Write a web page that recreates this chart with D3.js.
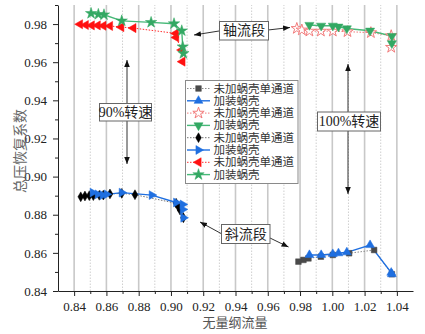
<!DOCTYPE html>
<html>
<head>
<meta charset="utf-8">
<script src="https://cdn.jsdelivr.net/npm/d3@7"></script>
<style>
  body { margin: 0; background: #fff; }
  text { font-family: "Times New Roman", "Liberation Serif", "DejaVu Serif", "Noto Sans CJK SC", serif; }
</style>
</head>
<body>
<svg id="chart" width="425" height="334"></svg>
<script>
var xTicks = [0.84, 0.86, 0.88, 0.90, 0.92, 0.94, 0.96, 0.98, 1.00, 1.02, 1.04];
var xMinor = [0.85, 0.87, 0.89, 0.91, 0.93, 0.95, 0.97, 0.99, 1.01, 1.03];
var yTicks = [0.84, 0.86, 0.88, 0.90, 0.92, 0.94, 0.96, 0.98];
var yMinor = [0.85, 0.87, 0.89, 0.91, 0.93, 0.95, 0.97, 0.99];

var legendNames = ["未加蜗壳单通道", "加装蜗壳", "未加蜗壳单通道", "加装蜗壳",
  "未加蜗壳单通道", "加装蜗壳", "未加蜗壳单通道", "加装蜗壳"];

// 100%转速 斜流段
var squareX = [0.9790, 0.9821, 0.9852, 0.9929, 1.0003, 1.0104, 1.0259, 1.0369];
var squareY = [0.8554, 0.8563, 0.8571, 0.8580, 0.8589, 0.8598, 0.8615, 0.8488];
var triUpX = [0.9858, 0.9931, 1.0003, 1.0038, 1.0090, 1.0234, 1.0365, 1.0369];
var triUpY = [0.8589, 0.8589, 0.8594, 0.8598, 0.8603, 0.8641, 0.8496, 0.8488];

// 100%转速 轴流段
var starOpenX = [0.9780, 0.9811, 0.9858, 0.9929, 1.0003, 1.0094, 1.0239, 1.0365, 1.0365];
var starOpenY = [0.9777, 0.9769, 0.9763, 0.9763, 0.9763, 0.9760, 0.9755, 0.9739, 0.9678];
var triDownX = [0.9858, 0.9931, 1.0003, 1.0038, 1.0090, 1.0234, 1.0369, 1.0369];
var triDownY = [0.9795, 0.9791, 0.9791, 0.9786, 0.9777, 0.9765, 0.9737, 0.9699];

// 90%转速 斜流段
var diamondX = [0.8441, 0.8467, 0.8494, 0.8519, 0.8556, 0.8581, 0.8622, 0.8695, 0.8777, 0.9032, 0.9046, 0.9056, 0.9077];
var diamondY = [0.8894, 0.8898, 0.8900, 0.8900, 0.8902, 0.8903, 0.8909, 0.8912, 0.8905, 0.8860, 0.8842, 0.8825, 0.8784];
var triRightX = [0.8515, 0.8546, 0.8577, 0.8602, 0.8695, 0.8881, 0.9032, 0.9073, 0.9073, 0.9077];
var triRightY = [0.8916, 0.8907, 0.8903, 0.8907, 0.8916, 0.8903, 0.8864, 0.8854, 0.8828, 0.8784];

// 90%转速 轴流段
var triLeftX = [0.8436, 0.8472, 0.8509, 0.8546, 0.8581, 0.8622, 0.8692, 0.8767, 0.9030, 0.9032, 0.9067, 0.9071];
var triLeftY = [0.9799, 0.9795, 0.9793, 0.9793, 0.9791, 0.9790, 0.9784, 0.9779, 0.9751, 0.9730, 0.9664, 0.9603];
var starX = [0.8505, 0.8550, 0.8585, 0.8695, 0.8877, 0.9019, 0.9067, 0.9073, 0.9077];
var starY = [0.9856, 0.9851, 0.9849, 0.9817, 0.9809, 0.9802, 0.9765, 0.9681, 0.9646];

var series = [
  { x: squareX, y: squareY, color: "#4a4a4a", line: "#8a8a8a", sym: d3.symbolSquare, size: 32, rot: 0, dotted: true },
  { x: triUpX, y: triUpY, color: "#1f6fe0", line: "#1f6fe0", sym: d3.symbolTriangle, size: 34, rot: 0, dotted: false },
  { x: starOpenX, y: starOpenY, color: "#f27c7c", line: "#f27c7c", sym: d3.symbolStar, size: 40, rot: 0, dotted: true, open: true },
  { x: triDownX, y: triDownY, color: "#33a863", line: "#47b978", sym: d3.symbolTriangle, size: 36, rot: 180, dotted: false },
  { x: diamondX, y: diamondY, color: "#000", line: "#777", sym: d3.symbolDiamond, size: 28, rot: 0, dotted: true },
  { x: triRightX, y: triRightY, color: "#1f6fe0", line: "#1f6fe0", sym: d3.symbolTriangle, size: 34, rot: 90, dotted: false },
  { x: triLeftX, y: triLeftY, color: "#ff1010", line: "#ff3030", sym: d3.symbolTriangle, size: 36, rot: -90, dotted: true },
  { x: starX, y: starY, color: "#33a863", line: "#47b978", sym: d3.symbolStar, size: 40, rot: 0, dotted: false }
];

var svg = d3.select("#chart");
var serif = "'Times New Roman', 'Liberation Serif', 'DejaVu Serif', serif";

var xScale = d3.scaleLinear().domain([0.83, 1.05]).range([58, 413]);
var yScale = d3.scaleLinear().domain([0.84, 0.99]).range([291, 5]);

// grid
var grid = svg.append("g").attr("class", "grid");
grid.selectAll("line.major")
  .data(xTicks)
  .enter()
  .append("line")
  .attr("class", "major")
  .attr("x1", function (d) { return xScale(d); })
  .attr("x2", function (d) { return xScale(d); })
  .attr("y1", yScale.range()[0])
  .attr("y2", yScale.range()[1])
  .attr("stroke", "#c8c8c8")
  .attr("stroke-width", 1.6);
grid.selectAll("line.minor")
  .data(xMinor)
  .enter()
  .append("line")
  .attr("class", "minor")
  .attr("x1", function (d) { return xScale(d); })
  .attr("x2", function (d) { return xScale(d); })
  .attr("y1", yScale.range()[0])
  .attr("y2", yScale.range()[1])
  .attr("stroke", "#cfcfcf")
  .attr("stroke-width", 1)
  .attr("stroke-dasharray", "1.5,1.5");

// axes
svg.append("g")
  .attr("transform", "translate(0," + yScale(0.84) + ")")
  .call(d3.axisBottom(xScale).tickValues(xTicks).tickFormat(d3.format(".2f"))
    .tickSize(5).tickSizeOuter(0).tickPadding(6));
svg.append("g")
  .attr("transform", "translate(0," + yScale(0.84) + ")")
  .call(d3.axisBottom(xScale).tickValues(xMinor).tickFormat("").tickSize(3).tickSizeOuter(0))
  .select(".domain").remove();

svg.append("g")
  .attr("transform", "translate(" + xScale(0.83) + ",0)")
  .call(d3.axisLeft(yScale).tickValues(yTicks).tickFormat(d3.format(".2f"))
    .tickSize(5).tickSizeOuter(0).tickPadding(6));
svg.append("g")
  .attr("transform", "translate(" + xScale(0.83) + ",0)")
  .call(d3.axisLeft(yScale).tickValues(yMinor).tickFormat("").tickSize(3).tickSizeOuter(0))
  .select(".domain").remove();

svg.selectAll(".tick text")
  .attr("font-size", 13)
  .attr("fill", "#222")
  .attr("font-family", serif)
  .style("font-family", serif);
svg.selectAll(".domain, .tick line").attr("stroke", "#222");

svg.append("text")
  .attr("x", 235)
  .attr("y", 322)
  .attr("text-anchor", "middle")
  .attr("dominant-baseline", "central")
  .attr("font-size", 13)
  .attr("fill", "#555")
  .text("无量纲流量");

svg.append("text")
  .attr("transform", "translate(20,151) rotate(-90)")
  .attr("text-anchor", "middle")
  .attr("dominant-baseline", "central")
  .attr("font-size", 14)
  .attr("fill", "#666")
  .text("总压恢复系数");

// series
var symbolPath = function (s) {
  return d3.symbol().type(s.sym).size(s.size)();
};

var drawSymbol = function (g, s, px, py) {
  g.append("path")
    .attr("d", symbolPath(s))
    .attr("transform", "translate(" + px + "," + py + ") rotate(" + s.rot + ")")
    .attr("fill", s.open ? "#fff" : s.color)
    .attr("stroke", s.color)
    .attr("stroke-width", s.open ? 1 : 0.5);
};

var lineGen = d3.line()
  .x(function (d) { return xScale(d[0]); })
  .y(function (d) { return yScale(d[1]); });

var plot = svg.append("g").attr("class", "series");
series.forEach(function (s) {
  var pts = d3.zip(s.x, s.y);
  plot.append("path")
    .attr("d", lineGen(pts))
    .attr("fill", "none")
    .attr("stroke", s.line)
    .attr("stroke-width", s.dotted ? 1 : 1.4)
    .attr("stroke-dasharray", s.dotted ? "1.5,1.5" : null);
});
series.forEach(function (s) {
  d3.zip(s.x, s.y).forEach(function (p) {
    drawSymbol(plot, s, xScale(p[0]), yScale(p[1]));
  });
});

// legend
var legend = svg.append("g").attr("class", "legend");
legend.append("rect")
  .attr("x", 185.5)
  .attr("y", 80.5)
  .attr("width", 112.5)
  .attr("height", 103)
  .attr("fill", "#fff")
  .attr("stroke", "#8a8a8a");
series.forEach(function (s, i) {
  var ly = 88.5 + i * 12.3;
  legend.append("line")
    .attr("x1", 187)
    .attr("x2", 210)
    .attr("y1", ly)
    .attr("y2", ly)
    .attr("stroke", s.line)
    .attr("stroke-width", s.dotted ? 1 : 1.4)
    .attr("stroke-dasharray", s.dotted ? "1.5,1.5" : null);
  drawSymbol(legend, s, 198.5, ly);
  legend.append("text")
    .attr("x", 213.5)
    .attr("y", ly)
    .attr("dominant-baseline", "central")
    .attr("font-size", 11.5)
    .attr("fill", "#333")
    .text(legendNames[i]);
});

// annotations
svg.append("defs").append("marker")
  .attr("id", "arrow")
  .attr("viewBox", "0 0 10 10")
  .attr("refX", 10)
  .attr("refY", 5)
  .attr("markerWidth", 7)
  .attr("markerHeight", 7)
  .attr("markerUnits", "userSpaceOnUse")
  .attr("orient", "auto")
  .append("path")
  .attr("d", "M0,1L10,5L0,9z")
  .attr("fill", "#111");

var arrow = function (x1, y1, x2, y2) {
  svg.append("line")
    .attr("x1", x1).attr("y1", y1)
    .attr("x2", x2).attr("y2", y2)
    .attr("stroke", "#333")
    .attr("stroke-width", 1)
    .attr("marker-end", "url(#arrow)");
};

var labelBox = function (x, y, w, h, txt) {
  svg.append("rect")
    .attr("x", x).attr("y", y)
    .attr("width", w).attr("height", h)
    .attr("fill", "#fff")
    .attr("stroke", "#666");
  svg.append("text")
    .attr("x", x + w / 2)
    .attr("y", y + h / 2)
    .attr("text-anchor", "middle")
    .attr("dominant-baseline", "central")
    .attr("font-size", 14)
    .attr("fill", "#222")
    .text(txt);
};

arrow(219, 31, 194, 35);
arrow(268, 30, 290, 27.5);
labelBox(219.5, 21.5, 49, 18.5, "轴流段");

arrow(127, 103, 127, 60);
arrow(127, 121, 127, 164);
labelBox(99.5, 103.5, 52, 17.5, "90%转速");

arrow(348, 112, 348, 64);
arrow(348, 131, 348, 194);
labelBox(317.5, 112, 63, 19, "100%转速");

arrow(222, 234, 200, 222);
arrow(270, 238, 288.5, 247);
labelBox(221.5, 224.5, 48.5, 19, "斜流段");
</script>
</body>
</html>
